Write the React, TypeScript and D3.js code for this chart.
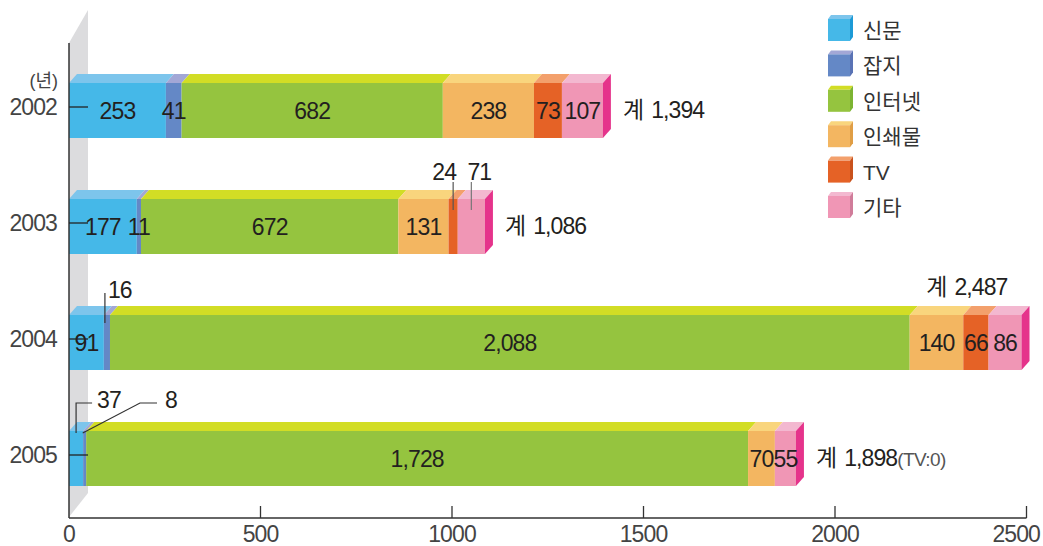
import React from 'react';
import * as d3 from 'd3';

// Advertising spend by medium, per year
const YEARS = ['2002', '2003', '2004', '2005'];
const CATEGORIES = ['신문', '잡지', '인터넷', '인쇄물', 'TV', '기타'];
const NEWSPAPER = [253, 177, 91, 37];
const MAGAZINE = [41, 11, 16, 8];
const INTERNET = [682, 672, 2088, 1728];
const PRINTED = [238, 131, 140, 70];
const TV = [73, 24, 66, 0];
const OTHER = [107, 71, 86, 55];
const SERIES = [NEWSPAPER, MAGAZINE, INTERNET, PRINTED, TV, OTHER];
const X_TICKS = [0, 500, 1000, 1500, 2000, 2500];

// face colours per category
const FRONT = ['#45b8e8', '#6488c6', '#95c43f', '#f3b661', '#e56226', '#f096b5'];
const TOP = ['#7dc5ec', '#a2a7d6', '#d2dd25', '#f9d57d', '#f3a06c', '#f3b8d0'];
const SIDE = ['#1d9ad6', '#5a73b5', '#7cb432', '#e09e45', '#c9521d', '#d07c9a'];
const END_SIDE = '#e5338b';

const W = 1043;
const H = 546;
const FONT = '"Liberation Sans", Arial, "Noto Sans CJK KR", sans-serif';
const DX = 8; // depth offset of the bars
const DY = 9;
const fmt = d3.format(',');

const NUM = { fontSize: 23, letterSpacing: -0.9 } as const;

export default function App() {
  const x = d3.scaleLinear().domain([0, 2500]).range([69, 1026.5]);
  const y = d3.scalePoint<string>().domain(YEARS).range([107, 455]);

  const rows = YEARS.map((year, i) => {
    let acc = 0;
    const segs = SERIES.map((s, k) => {
      const v = s[i];
      const seg = { k, v, x0: x(acc), x1: x(acc + v) };
      acc += v;
      return seg;
    });
    return { year, i, c: y(year) as number, segs, total: acc };
  });

  const axisY = 518;
  const darkText = '#231f20';
  const lastTick = X_TICKS[X_TICKS.length - 1];

  const totalText = (r: { total: number }) => (
    <>
      <tspan>계</tspan>
      <tspan dx={8}>{fmt(r.total)}</tspan>
    </>
  );

  return (
    <svg width={W} height={H} style={{ position: 'absolute', left: 0, top: 0, background: '#fff' }} fontFamily={FONT}>
      {/* back wall */}
      <polygon points="69,43 88,10 88,493 69,517" fill="#dcdcde" />

      {/* bars */}
      {rows.map((r) => {
        const top = r.c - 24;
        const bottom = r.c + 31;
        const drawn = r.segs.filter((s) => s.v > 0);
        const last = drawn[drawn.length - 1];
        return (
          <g key={r.year}>
            {drawn.map((s) => (
              <g key={s.k}>
                <polygon
                  points={`${s.x0},${top} ${s.x0 + DX},${top - DY} ${s.x1 + DX},${top - DY} ${s.x1},${top}`}
                  fill={TOP[s.k]}
                />
                <rect x={s.x0} y={top} width={s.x1 - s.x0} height={bottom - top} fill={FRONT[s.k]} />
              </g>
            ))}
            <polygon
              points={`${last.x1},${top} ${last.x1 + DX},${top - DY} ${last.x1 + DX},${bottom - DY} ${last.x1},${bottom}`}
              fill={END_SIDE}
            />
          </g>
        );
      })}

      {/* axes */}
      <line x1={69} x2={69} y1={43} y2={axisY} stroke="#333" strokeWidth={1.5} />
      <line x1={69} x2={x(lastTick)} y1={axisY} y2={axisY} stroke="#333" strokeWidth={1.5} />
      {X_TICKS.map((t) => (
        <g key={t}>
          {t > 0 && <line x1={x(t)} x2={x(t)} y1={axisY - 12} y2={axisY} stroke="#333" strokeWidth={1.3} />}
          <text
            x={t === lastTick ? W - 3 : x(t)}
            y={542}
            textAnchor={t === lastTick ? 'end' : 'middle'}
            {...NUM}
            fill="#444"
          >
            {t}
          </text>
        </g>
      ))}
      {rows.map((r) => (
        <g key={r.year}>
          <line x1={69} x2={88} y1={r.c} y2={r.c} stroke="#222" strokeWidth={1.3} />
          <text x={57} y={r.c + 8} textAnchor="end" {...NUM} fill="#444">
            {r.year}
          </text>
        </g>
      ))}
      <text x={58} y={87} textAnchor="end" fontSize={18} fill="#444">
        (년)
      </text>

      {/* labels inside segments */}
      {rows.map((r) =>
        r.segs
          .filter((s) => {
            if (s.v === 0) return false;
            if (r.year === '2003' && (s.k === 4 || s.k === 5)) return false;
            if (r.year === '2004' && s.k === 1) return false;
            if (r.year === '2005' && (s.k === 0 || s.k === 1)) return false;
            return true;
          })
          .map((s) => (
            <text
              key={`${r.year}-${s.k}`}
              x={(s.x0 + s.x1) / 2}
              y={r.c + 12}
              textAnchor="middle"
              {...NUM}
              fill={darkText}
            >
              {fmt(s.v)}
            </text>
          ))
      )}

      {/* callouts for narrow segments */}
      {(() => {
        const r3 = rows[1];
        const r4 = rows[2];
        const r5 = rows[3];
        const top3 = r3.c - 24;
        const tv3 = r3.segs[4];
        const ot3 = r3.segs[5];
        const tvX = (tv3.x0 + tv3.x1) / 2;
        const otX = (ot3.x0 + ot3.x1) / 2;
        const mg4 = r4.segs[1];
        const mg4X = (mg4.x0 + mg4.x1) / 2;
        const np5 = r5.segs[0];
        const np5X = (np5.x0 + np5.x1) / 2;
        const mg5 = r5.segs[1];
        const mg5X = (mg5.x0 + mg5.x1) / 2;
        const lineColor = '#333';
        return (
          <g>
            <line x1={tvX} x2={tvX} y1={top3 - 17} y2={top3 + 11} stroke="#555" strokeWidth={1.2} />
            <text x={tvX - 9} y={top3 - 19} textAnchor="middle" {...NUM} fill={darkText}>
              {fmt(tv3.v)}
            </text>
            <line x1={otX} x2={otX} y1={top3 - 17} y2={top3 + 11} stroke="#777" strokeWidth={1.2} />
            <text x={otX + 8} y={top3 - 19} textAnchor="middle" {...NUM} fill={darkText}>
              {fmt(ot3.v)}
            </text>

            <line x1={mg4X - 2} x2={mg4X - 2} y1={r4.c - 46} y2={r4.c - 16} stroke={lineColor} strokeWidth={1.2} />
            <text x={mg4X + 1} y={r4.c - 41} {...NUM} fill={darkText}>
              {fmt(mg4.v)}
            </text>

            <polyline
              points={`${np5X},${r5.c - 22} ${np5X},${r5.c - 52} ${np5X + 16},${r5.c - 52}`}
              fill="none"
              stroke={lineColor}
              strokeWidth={1.2}
            />
            <text x={np5X + 21} y={r5.c - 47} {...NUM} fill={darkText}>
              {fmt(np5.v)}
            </text>
            <polyline
              points={`${mg5X - 2},${r5.c - 22} ${140},${r5.c - 52} ${157},${r5.c - 52}`}
              fill="none"
              stroke={lineColor}
              strokeWidth={1.2}
            />
            <text x={165} y={r5.c - 47} {...NUM} fill={darkText}>
              {fmt(mg5.v)}
            </text>
          </g>
        );
      })()}

      {/* totals */}
      {rows.map((r) =>
        r.year === '2004' ? (
          <text key={r.year} x={x(r.total) - 14} y={r.c - 44} textAnchor="end" {...NUM} fill={darkText}>
            {totalText(r)}
          </text>
        ) : (
          <text key={r.year} x={x(r.total) + 20} y={r.c + 11} {...NUM} fill={darkText}>
            {totalText(r)}
            {r.segs[4].v === 0 && (
              <tspan fontSize={19} letterSpacing={-0.6} fill="#555">
                (TV:0)
              </tspan>
            )}
          </text>
        )
      )}

      {/* legend */}
      {CATEGORIES.map((name, k) => {
        const cy = 30 + k * 35.4;
        const lx = 828;
        const t = cy - 11;
        return (
          <g key={name}>
            <polygon points={`${lx},${t} ${lx + 3},${t - 4} ${lx + 25},${t - 4} ${lx + 22},${t}`} fill={TOP[k]} />
            <polygon
              points={`${lx + 22},${t} ${lx + 25},${t - 4} ${lx + 25},${t + 18} ${lx + 22},${t + 22}`}
              fill={SIDE[k]}
            />
            <rect x={lx} y={t} width={22} height={22} fill={FRONT[k]} />
            <text x={863} y={cy + 8} fontSize={21} fill="#333">
              {name}
            </text>
          </g>
        );
      })}
    </svg>
  );
}
